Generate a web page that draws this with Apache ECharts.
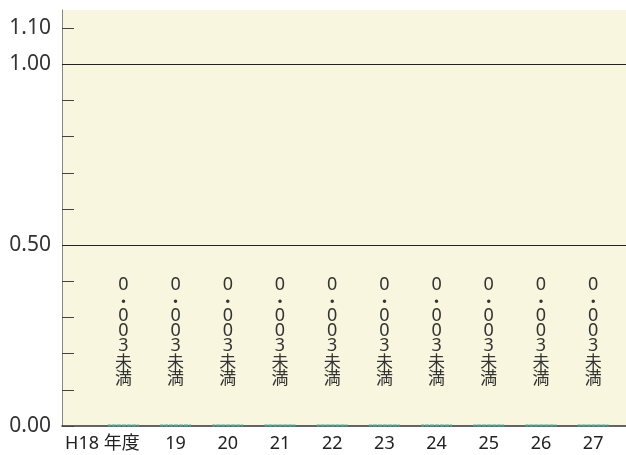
<!DOCTYPE html>
<html>
<head>
<meta charset="utf-8">
<script src="https://cdn.jsdelivr.net/npm/echarts@6/dist/echarts.min.js"></script>
<style>html,body{margin:0;padding:0;background:#fff;}#c{width:626px;height:455px;}</style>
</head>
<body>
<div id="c"></div>
<script>
const categories = ['H18 年度', '19', '20', '21', '22', '23', '24', '25', '26', '27'];
const values = [0.003, 0.003, 0.003, 0.003, 0.003, 0.003, 0.003, 0.003, 0.003, 0.003];
const valueLabels = ['0.003未満', '0.003未満', '0.003未満', '0.003未満', '0.003未満', '0.003未満', '0.003未満', '0.003未満', '0.003未満', '0.003未満'];
const yTickValues = [0, 0.1, 0.2, 0.3, 0.4, 0.5, 0.6, 0.7, 0.8, 0.9, 1.0, 1.1];
const yLabelValues = [0, 0.5, 1.0, 1.1];
const referenceLines = [0.5, 1.0];

const FONT = '"Noto Sans", "Noto Sans CJK JP", sans-serif';
const CJK = '"Noto Sans CJK JP", sans-serif';
const chart = echarts.init(document.getElementById('c'), null, {renderer: 'canvas'});

const xPositions = categories.map((c, i) => i);

function verticalLabel(text) {
  return text.split('').map(ch => {
    if (ch === '.') return '{dot|・}';
    if (/[0-9]/.test(ch)) return '{d|' + ch + '}';
    return '{k|' + ch + '}';
  }).join('\n');
}

chart.setOption({
  animation: false,
  grid: {
    left: 62, right: 0, top: 10, bottom: 29,
    show: true, backgroundColor: '#f8f6de', borderWidth: 0
  },
  xAxis: {
    type: 'value',
    min: -1.176, max: 9.629,
    splitLine: {show: false},
    axisTick: {show: false},
    axisLine: {show: true, onZero: false, lineStyle: {color: '#333', width: 1.5}},
    axisLabel: {
      customValues: xPositions,
      margin: 9,
      fontFamily: FONT,
      fontSize: 18,
      color: '#222',
      formatter: function (v) {
        const i = Math.round(v);
        if (i === 0) return '{first|' + categories[0] + '}';
        return categories[i];
      },
      rich: {
        first: {fontFamily: FONT, fontSize: 18, color: '#222', padding: [0, 42, 0, 0]}
      }
    }
  },
  yAxis: {
    type: 'value',
    min: 0, max: 1.15,
    splitLine: {show: false},
    axisLine: {show: true, onZero: false, lineStyle: {color: '#888', width: 1}},
    axisTick: {
      show: true, inside: true, length: 12,
      customValues: yTickValues,
      lineStyle: {color: '#444', width: 1}
    },
    axisLabel: {
      customValues: yLabelValues,
      margin: 11,
      fontFamily: FONT,
      fontSize: 21,
      color: '#333',
      formatter: v => v.toFixed(2)
    }
  },
  series: [{
    type: 'bar',
    barWidth: 32,
    data: values.map((v, i) => [xPositions[i], v]),
    itemStyle: {
      color: 'rgba(0,0,0,0)',
      borderColor: '#4fa391',
      borderWidth: 2,
      borderType: [3, 2]
    },
    label: {
      show: true,
      position: 'top',
      distance: 39,
      color: '#333',
      formatter: p => verticalLabel(valueLabels[p.dataIndex]),
      rich: {
        d: {fontFamily: FONT, fontSize: 18, lineHeight: 15, color: '#333'},
        dot: {fontFamily: CJK, fontSize: 16, lineHeight: 16, color: '#333'},
        k: {fontFamily: CJK, fontSize: 17, lineHeight: 16, color: '#333'}
      }
    },
    markLine: {
      silent: true,
      symbol: 'none',
      label: {show: false},
      lineStyle: {color: '#222', width: 1.2, type: 'solid'},
      data: referenceLines.map(v => ({yAxis: v}))
    }
  }]
});
</script>
</body>
</html>
